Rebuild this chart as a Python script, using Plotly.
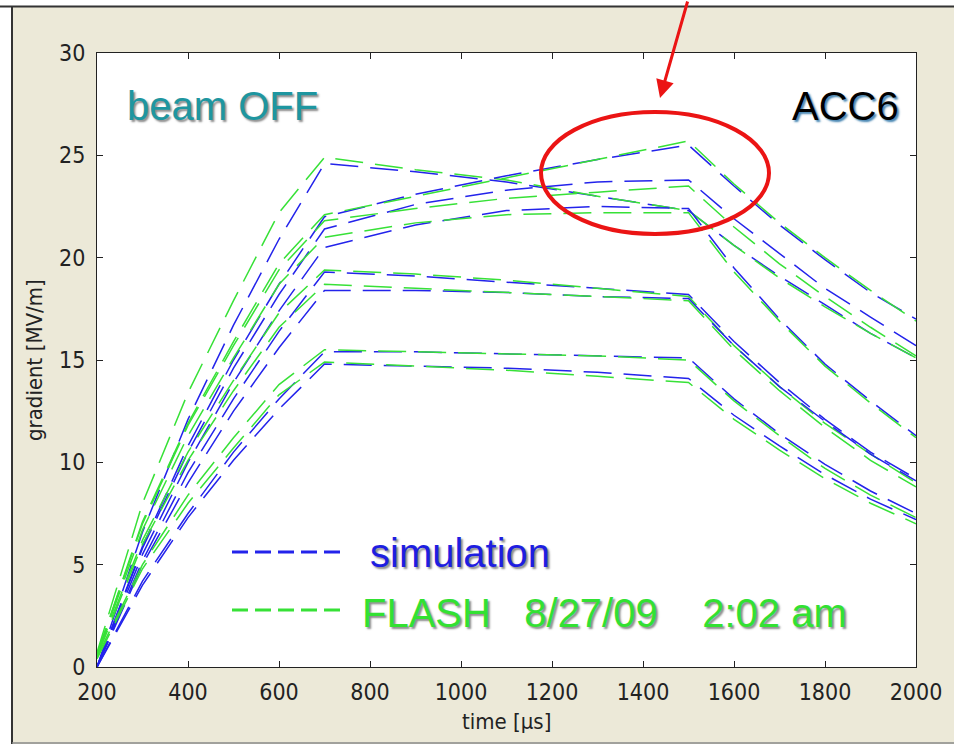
import plotly.graph_objects as go

# ---------------- data ----------------
T = [200, 300, 400, 500, 600, 700, 900, 1100, 1300, 1500, 1600, 1700, 1800, 1900, 2000]

sim_A = [0, 6.6, 12.1, 16.7, 20.9, 24.6, 24.2, 23.7, 23.0, 22.3, 20.6, 19.1, 17.7, 16.3, 15.1]
sim_B = [0, 5.9, 10.8, 15.0, 18.7, 22.0, 23.1, 24.0, 24.8, 25.5, 23.5, 21.6, 19.9, 18.3, 17.0]
sim_C = [0, 5.8, 10.5, 14.6, 18.2, 21.4, 22.6, 23.3, 23.7, 23.8, 21.9, 20.2, 18.5, 17.1, 15.7]
sim_D = [0, 5.5, 10.0, 13.9, 17.4, 20.5, 21.6, 22.3, 22.5, 22.4, 19.5, 17.0, 14.8, 13.0, 11.3]
sim_E = [0, 5.2, 9.5, 13.1, 16.4, 19.3, 19.1, 18.8, 18.5, 18.2, 15.9, 13.9, 12.1, 10.5, 9.2]
sim_F = [0, 5.0, 9.0, 12.5, 15.6, 18.4, 18.4, 18.3, 18.1, 18.0, 15.7, 13.7, 12.0, 10.4, 9.1]
sim_G = [0, 4.2, 7.5, 10.5, 13.1, 15.4, 15.4, 15.3, 15.2, 15.1, 13.1, 11.4, 9.9, 8.6, 7.5]
sim_H = [0, 4.0, 7.3, 10.1, 12.6, 14.8, 14.7, 14.6, 14.4, 14.1, 12.3, 10.8, 9.4, 8.2, 7.2]

meas_A = [0.7, 8.0, 13.4, 17.9, 22.2, 24.9, 24.3, 23.8, 23.0, 22.3, 20.6, 19.0, 17.6, 16.3, 15.1]
meas_B = [0.6, 7.1, 11.9, 15.9, 19.7, 22.1, 23.0, 23.9, 24.8, 25.7, 23.6, 21.7, 20.0, 18.4, 16.9]
meas_C = [0.6, 7.0, 11.8, 15.7, 19.4, 21.8, 22.4, 22.9, 23.2, 23.5, 21.5, 19.7, 18.1, 16.6, 15.2]
meas_D = [0.6, 6.7, 11.3, 15.1, 18.7, 21.0, 21.7, 22.1, 22.2, 22.2, 19.3, 16.9, 14.7, 12.9, 11.2]
meas_E = [0.6, 6.2, 10.5, 14.0, 17.3, 19.4, 19.2, 18.9, 18.5, 18.1, 15.7, 13.7, 11.9, 10.4, 9.0]
meas_F = [0.5, 6.0, 10.1, 13.5, 16.6, 18.7, 18.5, 18.3, 18.1, 17.9, 15.5, 13.5, 11.7, 10.1, 8.8]
meas_G = [0.5, 5.0, 8.4, 11.2, 13.8, 15.5, 15.4, 15.3, 15.2, 15.0, 13.0, 11.3, 9.7, 8.4, 7.3]
meas_H = [0.4, 4.8, 8.0, 10.7, 13.3, 14.9, 14.7, 14.5, 14.2, 13.9, 12.1, 10.6, 9.2, 8.0, 7.0]

sim_series = [sim_A, sim_B, sim_C, sim_D, sim_E, sim_F, sim_G, sim_H]
meas_series = [meas_A, meas_B, meas_C, meas_D, meas_E, meas_F, meas_G, meas_H]

x_ticks = [200, 400, 600, 800, 1000, 1200, 1400, 1600, 1800, 2000]
y_ticks = [0, 5, 10, 15, 20, 25, 30]

legend_sim = "simulation"
legend_meas = "FLASH\u00a0\u00a0\u00a08/27/09\u00a0\u00a0\u00a0\u00a02:02 am"

# ---------------- styles ----------------
BLUE = "rgb(35,35,235)"
GREEN = "rgb(55,225,55)"
BEIGE = "#ECE9D8"
W, H = 954, 744
L, R, TOP, BOT = 97, 916, 53, 667
TICKFONT = "Liberation Sans Narrow, DejaVu Sans Condensed, Arial Narrow, sans-serif"
TEXTFONT = "Liberation Sans, Arial, sans-serif"


def px(x):
    return (x - L) / (R - L)


def py(y):
    return (BOT - y) / (BOT - TOP)


fig = go.Figure()
for s, m in zip(sim_series, meas_series):
    fig.add_trace(go.Scatter(x=T, y=s, mode="lines", showlegend=False,
                             line=dict(color=BLUE, width=1.5, dash="28px,12px")))
    fig.add_trace(go.Scatter(x=T, y=m, mode="lines", showlegend=False,
                             line=dict(color=GREEN, width=1.5, dash="28px,12px")))

shapes = [
    # white strips outside the beige frame
    dict(type="rect", xref="paper", yref="paper", x0=px(0), x1=px(12), y0=py(H), y1=py(0),
         fillcolor="white", line=dict(width=0), layer="below"),
    dict(type="rect", xref="paper", yref="paper", x0=px(0), x1=px(W), y0=py(6), y1=py(0),
         fillcolor="white", line=dict(width=0), layer="below"),
    # frame borders
    dict(type="line", xref="paper", yref="paper", x0=px(0), x1=px(W), y0=py(6.5), y1=py(6.5),
         line=dict(color="#333", width=2)),
    dict(type="line", xref="paper", yref="paper", x0=px(12), x1=px(12), y0=py(6), y1=py(H),
         line=dict(color="#333", width=2)),
    dict(type="line", xref="paper", yref="paper", x0=px(12), x1=px(W), y0=py(743), y1=py(743),
         line=dict(color="#888", width=1.5)),
    # legend sample lines
    dict(type="line", xref="paper", yref="paper", x0=px(232), x1=px(340), y0=py(552), y1=py(552),
         line=dict(color=BLUE, width=3, dash="16px,7px")),
    dict(type="line", xref="paper", yref="paper", x0=px(232), x1=px(340), y0=py(610), y1=py(610),
         line=dict(color=GREEN, width=3, dash="16px,7px")),
    # red ellipse
    dict(type="circle", xref="paper", yref="paper", x0=px(541), x1=px(769), y0=py(234), y1=py(112),
         line=dict(color="rgb(235,20,20)", width=4)),
]

annotations = []


def shadow_text(text, x, y, color, size, xanchor, shadow="2px 2px 2px rgba(110,110,110,0.8)"):
    annotations.append(dict(text=text, x=px(x), y=py(y), xref="paper", yref="paper",
                            xanchor=xanchor, yanchor="middle", showarrow=False,
                            font=dict(family=TEXTFONT, size=size, color=color, shadow=shadow)))


shadow_text("beam OFF", 125, 106, "rgb(30,150,160)", 40, "left")
shadow_text("ACC6", 901, 106, "black", 40, "right", shadow="2px 2px 2px rgba(50,120,170,0.9)")
shadow_text(legend_sim, 368, 553, "rgb(30,30,225)", 40, "left")
shadow_text(legend_meas, 360, 613, "rgb(50,225,50)", 40, "left")

# axis titles
annotations.append(dict(text="time [µs]", x=px(506), y=py(721), xref="paper", yref="paper",
                        xanchor="center", yanchor="middle", showarrow=False,
                        font=dict(family=TICKFONT, size=22, color="#222")))
annotations.append(dict(text="gradient [MV/m]", x=px(34), y=py(360), xref="paper", yref="paper",
                        xanchor="center", yanchor="middle", showarrow=False, textangle=-90,
                        font=dict(family=TICKFONT, size=22, color="#222")))
# red arrow
annotations.append(dict(text="", x=px(660), y=py(98), xref="paper", yref="paper",
                        ax=28, ay=-104, showarrow=True, arrowhead=2, arrowsize=1.2,
                        arrowwidth=3, arrowcolor="rgb(235,20,20)"))

fig.update_layout(
    width=W, height=H,
    margin=dict(l=L, r=W - R, t=TOP, b=H - BOT, pad=0),
    paper_bgcolor=BEIGE, plot_bgcolor="white",
    shapes=shapes, annotations=annotations, showlegend=False,
    xaxis=dict(range=[200, 2000], tickvals=x_ticks, ticktext=[str(v) for v in x_ticks],
               ticks="inside", ticklen=6, tickcolor="#222", showline=True, linecolor="#222",
               linewidth=1, mirror="ticks", showgrid=False, zeroline=False,
               ticklabelstandoff=4,
               tickfont=dict(family=TICKFONT, size=23, color="#222")),
    yaxis=dict(range=[0, 30], tickvals=y_ticks, ticktext=[str(v) for v in y_ticks],
               ticks="inside", ticklen=6, tickcolor="#222", showline=True, linecolor="#222",
               linewidth=1, mirror="ticks", showgrid=False, zeroline=False,
               ticklabelstandoff=6,
               tickfont=dict(family=TICKFONT, size=23, color="#222")),
)

fig.write_html("out.html")
